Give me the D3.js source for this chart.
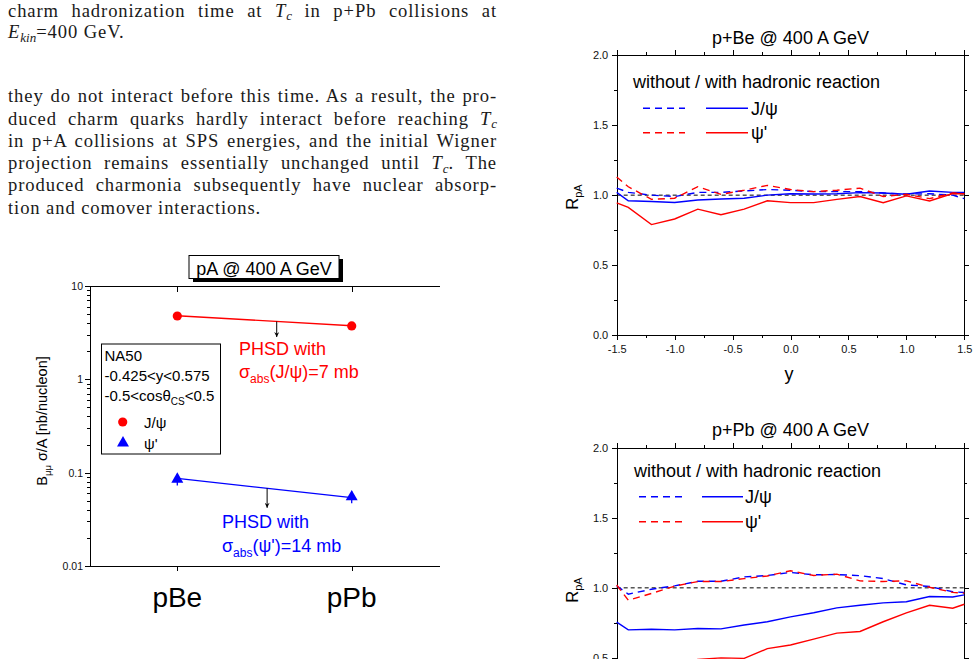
<!DOCTYPE html>
<meta charset="utf-8">
<head>
<style>
  body { margin: 0; background: #fff; width: 979px; height: 659px; overflow: hidden; position: relative; }
  .line { position: absolute; left: 8px; width: 489px; font-family: "Liberation Serif", serif; font-size: 18.6px;
          line-height: 22px; color: #1a1a1a; text-align: justify; text-align-last: justify; letter-spacing: 0.9px; }
  .line.last { text-align-last: left; }
  .sub { font-size: 0.7em; position: relative; top: 0.28em; font-style: italic; letter-spacing: 0; }
  svg text { font-family: "Liberation Sans", Arial, sans-serif; }
  .axis path, .axis line { stroke: #000; stroke-width: 1; shape-rendering: crispEdges; }
  .axis text { font-size: 11px; fill: #111; }
</style>
<script src="https://cdn.jsdelivr.net/npm/d3@7"></script>
</head>
<body>
<script>
// ---- left chart: B_mumu sigma/A for pBe and pPb
const systems = ["pBe", "pPb"];
const jpsiData = [4.77, 3.73];
const jpsiErr = [0.25, 0.2];
const psipData = [0.085, 0.055];
const psipErr = [0.012, 0.008];
const jpsiPHSD = [4.8, 3.75];
const psipPHSD = [0.087, 0.054];
const logTicks = [0.01, 0.1, 1, 10];

// ---- right charts: R_pA vs rapidity
const rapidity = [-1.5, -1.4, -1.2, -1.0, -0.8, -0.6, -0.4, -0.2, 0.0, 0.2, 0.4, 0.6, 0.8, 1.0, 1.2, 1.4, 1.5];
const beJpsiNoHad = [1.05, 1.02, 1.0, 0.99, 1.02, 1.02, 1.03, 1.04, 1.035, 1.025, 1.025, 1.025, 1.015, 1.008, 1.01, 1.0, 0.975];
const beJpsiHad   = [1.02, 0.96, 0.955, 0.948, 0.965, 0.972, 0.978, 1.0, 1.01, 1.008, 1.01, 1.018, 1.015, 1.006, 1.03, 1.02, 1.02];
const bePsipNoHad = [1.13, 1.06, 0.97, 0.978, 1.06, 1.006, 1.035, 1.07, 1.04, 1.025, 1.035, 1.05, 0.99, 1.006, 0.975, 1.015, 1.01];
const bePsipHad   = [0.945, 0.913, 0.79, 0.83, 0.90, 0.86, 0.90, 0.96, 0.947, 0.947, 0.97, 0.99, 0.946, 0.995, 0.958, 1.012, 1.01];
const pbJpsiNoHad = [1.015, 0.955, 0.99, 1.014, 1.047, 1.047, 1.078, 1.088, 1.11, 1.093, 1.095, 1.087, 1.066, 1.021, 1.01, 0.972, 0.967];
const pbJpsiHad   = [0.755, 0.70, 0.705, 0.70, 0.71, 0.707, 0.735, 0.758, 0.793, 0.822, 0.857, 0.876, 0.893, 0.901, 0.938, 0.935, 0.95];
const pbPsipNoHad = [1.02, 0.912, 0.96, 1.012, 1.045, 1.045, 1.066, 1.085, 1.122, 1.088, 1.098, 1.05, 1.045, 1.05, 1.004, 0.968, 0.962];
const pbPsipHad   = [0.46, 0.42, 0.43, 0.44, 0.49, 0.50, 0.497, 0.566, 0.592, 0.634, 0.677, 0.689, 0.758, 0.822, 0.876, 0.855, 0.883];
const rTicks = [0, 0.5, 1.0, 1.5, 2.0];
const rMinor = [0.25, 0.75, 1.25, 1.75];
const yTicks = [-1.5, -1.0, -0.5, 0.0, 0.5, 1.0, 1.5];
const yMinor = [-1.25, -0.75, -0.25, 0.25, 0.75, 1.25];

// ---- page text
const textLines = [
  { html: "charm hadronization time at <i>T</i><span class='sub'>c</span> in p+Pb collisions at", base: 17 },
  { html: "<i>E</i><span class='sub'>kin</span>=400 GeV.", base: 38.5, last: true },
  { html: "they do not interact before this time. As a result, the pro-", base: 102.7 },
  { html: "duced charm quarks hardly interact before reaching <i>T</i><span class='sub'>c</span>", base: 125 },
  { html: "in p+A collisions at SPS energies, and the initial Wigner", base: 147.2 },
  { html: "projection remains essentially unchanged until <i>T</i><span class='sub'>c</span>. The", base: 169.4 },
  { html: "produced charmonia subsequently have nuclear absorp-", base: 191.6 },
  { html: "tion and comover interactions.", base: 213.8, last: true }
];

d3.select("body").selectAll("div.line")
  .data(textLines)
  .enter().append("div")
  .attr("class", d => d.last ? "line last" : "line")
  .style("top", d => (d.base - 17.3) + "px")
  .html(d => d.html);

const svg = d3.select("body").append("svg")
  .attr("width", 979).attr("height", 659)
  .style("position", "absolute").style("left", "0px").style("top", "0px");

svg.append("defs").append("marker")
  .attr("id", "arrowHead")
  .attr("viewBox", "0 0 6 8").attr("refX", 3).attr("refY", 8)
  .attr("markerWidth", 5).attr("markerHeight", 7)
  .attr("markerUnits", "userSpaceOnUse")
  .attr("orient", "0")
  .append("path").attr("d", "M0,2L3,8L6,2L3,4Z").attr("fill", "#000");

drawLeftChart();
drawRpA({ top: 55, bottom: 335.3, title: "p+Be @ 400 A GeV", showX: true,
          series: [beJpsiNoHad, beJpsiHad, bePsipNoHad, bePsipHad],
          leg: { x: 633, y0: 33.3, y1: 53.3, y2: 77.7, dash: [643, 685], solid: [706, 748], tx: 751 },
          rLabelY: 197 });
drawRpA({ top: 447.7, bottom: 728, title: "p+Pb @ 400 A GeV", showX: false,
          series: [pbJpsiNoHad, pbJpsiHad, pbPsipNoHad, pbPsipHad],
          leg: { x: 634, y0: 29.6, y1: 49, y2: 74, dash: [639, 682], solid: [702, 743], tx: 745 },
          rLabelY: 590 });

function drawLeftChart() {
  let x = d3.scalePoint().domain(systems).range([177.3, 351.7]);
  let y = d3.scaleLog().domain([0.01, 10]).range([566, 286]);
  let g = svg.append("g");
  let xLeft = 90, xRight = 440;

  let minor = [];
  logTicks.slice(0, 3).forEach(d => { for (let k = 2; k <= 9; k++) minor.push(d * k); });

  g.append("g").attr("class", "axis").attr("transform", `translate(${xLeft},0)`)
    .call(d3.axisLeft(y).tickValues(minor).tickSize(3).tickFormat(""))
    .select(".domain").remove();
  g.append("g").attr("class", "axis").attr("transform", `translate(${xLeft},0)`)
    .call(d3.axisLeft(y).tickValues(logTicks).tickSize(5).tickSizeOuter(0).tickPadding(2)
      .tickFormat(d => String(d)))
    .selectAll("text").style("font-size", "10.5px");

  let bottom = g.append("g").attr("class", "axis").attr("transform", `translate(0,${y(0.01)})`)
    .call(d3.axisBottom(x).tickSize(5).tickFormat(""));
  bottom.select(".domain").attr("d", `M${xLeft},0H${xRight}`);
  let topAx = g.append("g").attr("class", "axis").attr("transform", `translate(0,${y(10)})`)
    .call(d3.axisBottom(x).tickSize(6).tickFormat(""));
  topAx.select(".domain").attr("d", `M${xLeft},0H${xRight}`);

  g.selectAll(".sysLabel").data(systems).enter().append("text")
    .attr("x", d => x(d)).attr("y", 606.5).attr("text-anchor", "middle")
    .style("font-size", "28px").text(d => d);

  // y axis title
  let yt = g.append("text").attr("transform", "translate(46.5,421) rotate(-90)")
    .attr("text-anchor", "middle").style("font-size", "14.5px");
  yt.append("tspan").text("B");
  yt.append("tspan").attr("dy", 4).style("font-size", "9.5px").text("μμ");
  yt.append("tspan").attr("dy", -4).text(" σ/A [nb/nucleon]");

  // title box with shadow
  g.append("rect").attr("x", 193).attr("y", 259).attr("width", 150).attr("height", 23).attr("fill", "#000");
  g.append("rect").attr("x", 189).attr("y", 255.5).attr("width", 150).attr("height", 23)
    .attr("fill", "#fff").attr("stroke", "#000").attr("stroke-width", 1);
  g.append("text").attr("x", 264).attr("y", 274.5).attr("text-anchor", "middle")
    .style("font-size", "18px").text("pA @ 400 A GeV");

  // PHSD lines
  let line = d3.line().x((d, i) => x(systems[i])).y(d => y(d));
  g.append("path").datum(jpsiPHSD).attr("d", line).attr("fill", "none").attr("stroke", "#ff0000").attr("stroke-width", 1.3);
  g.append("path").datum(psipPHSD).attr("d", line).attr("fill", "none").attr("stroke", "#0000ff").attr("stroke-width", 1.3);

  // arrows dropping from the PHSD lines
  let arrows = [{ t: 0.57, vals: jpsiPHSD, to: 2.84 }, { t: 0.515, vals: psipPHSD, to: 0.042 }];
  arrows.forEach(a => {
    let xa = x(systems[0]) + a.t * (x(systems[1]) - x(systems[0]));
    let la = Math.log10(a.vals[0]) + a.t * (Math.log10(a.vals[1]) - Math.log10(a.vals[0]));
    g.append("line").attr("x1", xa).attr("x2", xa).attr("y1", y(Math.pow(10, la))).attr("y2", y(a.to))
      .attr("stroke", "#000").attr("stroke-width", 1).attr("marker-end", "url(#arrowHead)");
  });

  // error bars
  let errs = [];
  systems.forEach((s, i) => {
    errs.push({ s, lo: jpsiData[i] - jpsiErr[i], hi: jpsiData[i] + jpsiErr[i], c: "#ff0000" });
    errs.push({ s, lo: psipData[i] - psipErr[i], hi: psipData[i] + psipErr[i], c: "#0000ff" });
  });
  g.selectAll(".err").data(errs).enter().append("line")
    .attr("x1", d => x(d.s)).attr("x2", d => x(d.s)).attr("y1", d => y(d.lo)).attr("y2", d => y(d.hi))
    .attr("stroke", d => d.c).attr("stroke-width", 1.3);

  g.selectAll(".jp").data(jpsiData).enter().append("circle")
    .attr("cx", (d, i) => x(systems[i])).attr("cy", d => y(d)).attr("r", 4.6).attr("fill", "#ff0000");
  g.selectAll(".pp").data(psipData).enter().append("path")
    .attr("transform", (d, i) => `translate(${x(systems[i])},${y(d)})`)
    .attr("d", d3.symbol(d3.symbolTriangle, 62)).attr("fill", "#0000ff");

  // annotations
  g.append("text").attr("x", 239).attr("y", 355).attr("fill", "#ff0000").style("font-size", "18px").text("PHSD with");
  let s1 = g.append("text").attr("x", 239).attr("y", 378).attr("fill", "#ff0000").style("font-size", "18px");
  s1.append("tspan").text("σ");
  s1.append("tspan").attr("dy", 5).style("font-size", "12px").text("abs");
  s1.append("tspan").attr("dy", -5).text("(J/ψ)=7 mb");

  g.append("text").attr("x", 222).attr("y", 527.5).attr("fill", "#0000ff").style("font-size", "18px").text("PHSD with");
  let s2 = g.append("text").attr("x", 222).attr("y", 551.5).attr("fill", "#0000ff").style("font-size", "18px");
  s2.append("tspan").text("σ");
  s2.append("tspan").attr("dy", 5).style("font-size", "12px").text("abs");
  s2.append("tspan").attr("dy", -5).text("(ψ')=14 mb");

  // legend box
  g.append("rect").attr("x", 101.5).attr("y", 344).attr("width", 119).attr("height", 110)
    .attr("fill", "none").attr("stroke", "#000").attr("stroke-width", 1);
  g.append("text").attr("x", 104.5).attr("y", 361).style("font-size", "15px").text("NA50");
  g.append("text").attr("x", 104.5).attr("y", 381).style("font-size", "15px").text("-0.425<y<0.575");
  let c = g.append("text").attr("x", 104.5).attr("y", 401).style("font-size", "15px");
  c.append("tspan").text("-0.5<cosθ");
  c.append("tspan").attr("dy", 4).style("font-size", "10px").text("CS");
  c.append("tspan").attr("dy", -4).text("<0.5");
  g.append("circle").attr("cx", 122.7).attr("cy", 422).attr("r", 4.6).attr("fill", "#ff0000");
  g.append("text").attr("x", 144).attr("y", 428).style("font-size", "15px").text("J/ψ");
  g.append("path").attr("transform", "translate(123,443)").attr("d", d3.symbol(d3.symbolTriangle, 62)).attr("fill", "#0000ff");
  g.append("text").attr("x", 144).attr("y", 449).style("font-size", "15px").text("ψ'");
}

function drawRpA(cfg) {
  let x = d3.scaleLinear().domain([-1.5, 1.5]).range([616.7, 964.3]);
  let y = d3.scaleLinear().domain([0, 2]).range([cfg.bottom, cfg.top]);
  let g = svg.append("g");
  let fmt = d => d.toFixed(1);

  // minor ticks, then major ticks on all four sides
  g.append("g").attr("class", "axis").attr("transform", `translate(${x(-1.5)},0)`)
    .call(d3.axisLeft(y).tickValues(rMinor).tickSize(3).tickFormat("")).select(".domain").remove();
  g.append("g").attr("class", "axis").attr("transform", `translate(${x(1.5)},0)`)
    .call(d3.axisRight(y).tickValues(rMinor).tickSize(3).tickFormat("")).select(".domain").remove();
  g.append("g").attr("class", "axis").attr("transform", `translate(0,${y(0)})`)
    .call(d3.axisBottom(x).tickValues(yMinor).tickSize(3).tickFormat("")).select(".domain").remove();
  g.append("g").attr("class", "axis").attr("transform", `translate(0,${y(2)})`)
    .call(d3.axisTop(x).tickValues(yMinor).tickSize(3).tickFormat("")).select(".domain").remove();

  g.append("g").attr("class", "axis").attr("transform", `translate(${x(-1.5)},0)`)
    .call(d3.axisLeft(y).tickValues(rTicks).tickSize(5).tickSizeOuter(0).tickPadding(3.5).tickFormat(fmt));
  g.append("g").attr("class", "axis").attr("transform", `translate(${x(1.5)},0)`)
    .call(d3.axisRight(y).tickValues(rTicks).tickSize(5).tickSizeOuter(0).tickFormat(""));
  g.append("g").attr("class", "axis").attr("transform", `translate(0,${y(0)})`)
    .call(d3.axisBottom(x).tickValues(yTicks).tickSize(5).tickSizeOuter(0).tickPadding(5).tickFormat(fmt));
  g.append("g").attr("class", "axis").attr("transform", `translate(0,${y(2)})`)
    .call(d3.axisTop(x).tickValues(yTicks).tickSize(5).tickSizeOuter(0).tickFormat(""));

  // reference line at 1
  g.append("line").attr("x1", x(-1.5)).attr("x2", x(1.5)).attr("y1", y(1)).attr("y2", y(1))
    .attr("stroke", "#000").attr("stroke-width", 1).attr("stroke-dasharray", "4,3");

  let line = d3.line().x((d, i) => x(rapidity[i])).y(d => y(d));
  let styles = [
    { c: "#0000ff", dash: "7,5" }, { c: "#0000ff", dash: null },
    { c: "#ff0000", dash: "7,5" }, { c: "#ff0000", dash: null }
  ];
  cfg.series.forEach((s, i) => {
    g.append("path").datum(s).attr("d", line).attr("fill", "none")
      .attr("stroke", styles[i].c).attr("stroke-width", 1.4)
      .attr("stroke-dasharray", styles[i].dash);
  });

  // title and axis labels
  g.append("text").attr("x", 790.5).attr("y", cfg.top - 11.5).attr("text-anchor", "middle")
    .style("font-size", "18px").text(cfg.title);
  if (cfg.showX) {
    g.append("text").attr("x", 789).attr("y", 380).attr("text-anchor", "middle")
      .style("font-size", "18px").text("y");
  }
  let rl = g.append("text").attr("transform", `translate(578,${cfg.rLabelY}) rotate(-90)`)
    .attr("text-anchor", "middle").style("font-size", "16.5px");
  rl.append("tspan").text("R");
  rl.append("tspan").attr("dy", 4).style("font-size", "11px").text("pA");

  // legend
  let L = cfg.leg;
  g.append("text").attr("x", L.x).attr("y", cfg.top + L.y0).style("font-size", "18px")
    .text("without / with hadronic reaction");
  [[L.y1, "#0000ff", "J/ψ"], [L.y2, "#ff0000", "ψ'"]].forEach(r => {
    let yy = cfg.top + r[0];
    g.append("line").attr("x1", L.dash[0]).attr("x2", L.dash[1]).attr("y1", yy).attr("y2", yy)
      .attr("stroke", r[1]).attr("stroke-width", 1.4).attr("stroke-dasharray", "7,5");
    g.append("line").attr("x1", L.solid[0]).attr("x2", L.solid[1]).attr("y1", yy).attr("y2", yy)
      .attr("stroke", r[1]).attr("stroke-width", 1.4);
    g.append("text").attr("x", L.tx).attr("y", yy + 6.5).style("font-size", "18px").text(r[2]);
  });
}
</script>
</body>
